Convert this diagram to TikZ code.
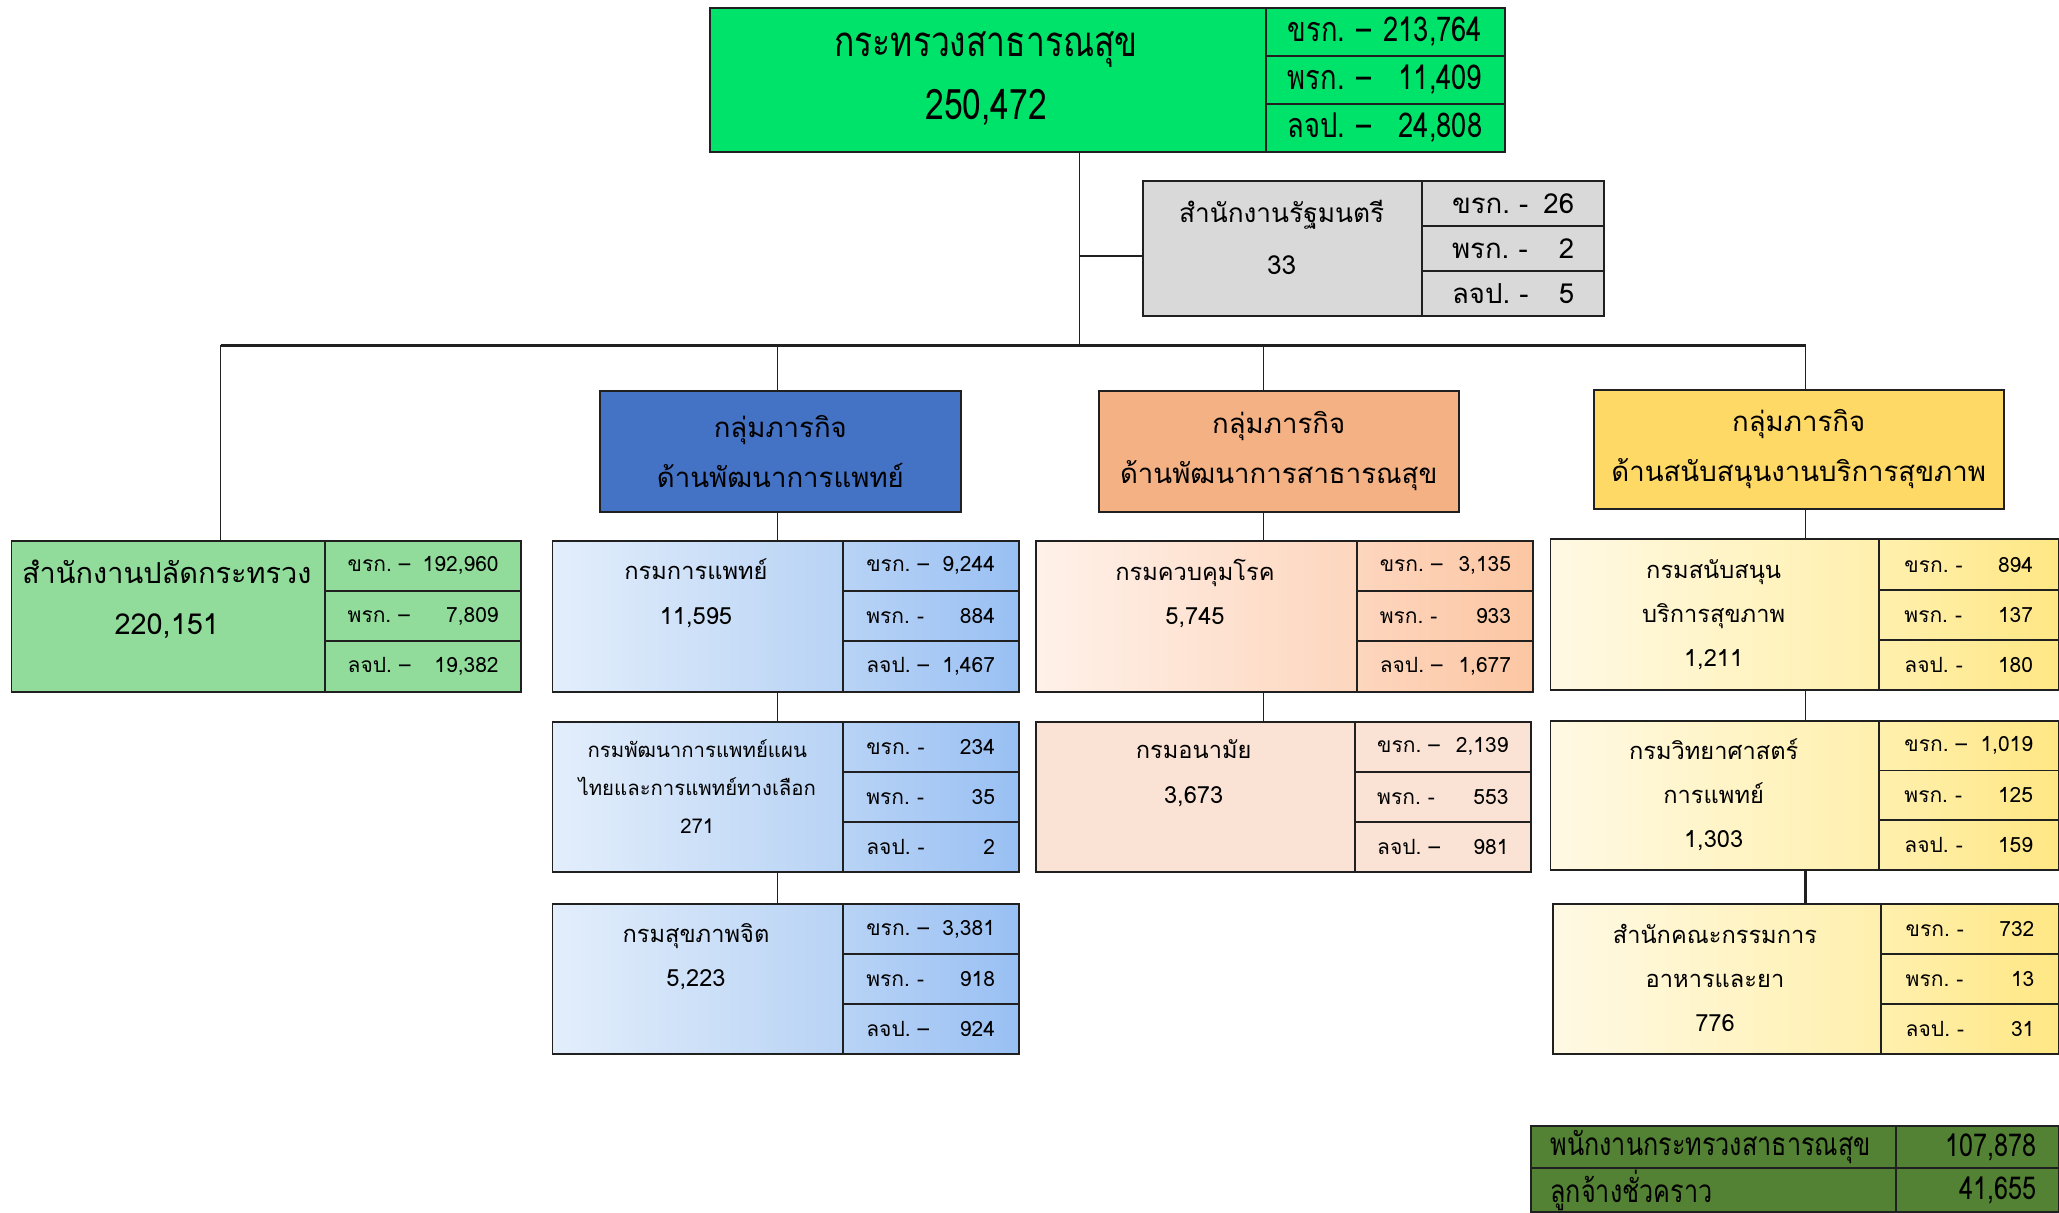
\documentclass[tikz,border=0pt]{standalone}
\usepackage{fontspec}
\usepackage{tikz}
\setmainfont[Script=Thai]{Loma}
\newfontfamily\narrowfont[Script=Thai,FakeStretch=0.8]{Loma}
\newcommand{\numgap}{\hspace{0.3em plus 1fill}}
\frenchspacing
\definecolor{linec}{HTML}{202020}
\definecolor{topgreen}{RGB}{0,227,107}
\definecolor{mingray}{HTML}{D9D9D9}
\definecolor{pgreen}{RGB}{145,220,155}
\definecolor{grpblue}{HTML}{4472C4}
\definecolor{grporange}{HTML}{F4B183}
\definecolor{grpyellow}{HTML}{FFD966}
\definecolor{bL}{HTML}{E3EEFB}
\definecolor{bM}{HTML}{B8D3F5}
\definecolor{bR}{HTML}{99C0F4}
\definecolor{oL}{HTML}{FFF1E9}
\definecolor{oM}{HTML}{FDD6BE}
\definecolor{oR}{HTML}{FCC6A2}
\definecolor{oF}{HTML}{FAE3D5}
\definecolor{yL}{HTML}{FFF9E4}
\definecolor{yM}{HTML}{FFF0AE}
\definecolor{yR}{HTML}{FFE784}
\definecolor{olive}{RGB}{84,130,53}

\begin{document}
\begin{tikzpicture}[x=1pt,y=1pt,yscale=-1,
  box/.style={draw=linec,line width=1.5pt,anchor=north west,inner sep=0pt},
  cell/.style={box,align=left,font=\fontsize{16}{18}\selectfont},
  boxtext/.style={align=center,inner sep=0pt},
  thinline/.style={draw=linec,line width=0.9pt},
  thickline/.style={draw=linec,line width=2pt}]
\useasboundingbox (0,0) rectangle (1568,923);

%Shape: Rectangle [ministry]
\node[box,fill=topgreen,minimum width=423,minimum height=110] (topmain) at (540,5) {};
\node[cell,fill=topgreen,minimum width=182,minimum height=36.67,text width=148,font=\narrowfont\fontsize{26}{28}\selectfont] (top1) at (963,5) {ขรก.~–\numgap 213,764};
\node[cell,fill=topgreen,minimum width=182,minimum height=36.67,text width=148,font=\narrowfont\fontsize{26}{28}\selectfont] (top2) at (963,41.67) {พรก.~–\numgap 11,409};
\node[cell,fill=topgreen,minimum width=182,minimum height=36.67,text width=148,font=\narrowfont\fontsize{26}{28}\selectfont] (top3) at (963,78.33) {ลจป.~–\numgap 24,808};
% Text Node
\node[boxtext,font=\narrowfont\fontsize{32}{48}\selectfont] (toptxt) at (751,60) {กระทรวงสาธารณสุข\\250,472};

%Shape: Rectangle [minister office]
\node[box,fill=mingray,minimum width=212,minimum height=103] (minmain) at (870,137) {};
\node[cell,fill=mingray,minimum width=139,minimum height=34.33,text width=93,font=\fontsize{21}{23}\selectfont] (min1) at (1082,137) {ขรก.~-\numgap 26};
\node[cell,fill=mingray,minimum width=139,minimum height=34.33,text width=93,font=\fontsize{21}{23}\selectfont] (min2) at (1082,171.33) {พรก.~-\numgap 2};
\node[cell,fill=mingray,minimum width=139,minimum height=34.33,text width=93,font=\fontsize{21}{23}\selectfont] (min3) at (1082,205.67) {ลจป.~-\numgap 5};
% Text Node
\node[boxtext,font=\fontsize{20}{40}\selectfont] (mintxt) at (976,181) {สำนักงานรัฐมนตรี\\33};

%Straight Lines [trunk and bus]
\coordinate (trunk) at (822,263);
\coordinate (minjoin) at (822,195);
\coordinate (colP) at (168,263);
\coordinate (colB) at (592,263);
\coordinate (colO) at (962,263);
\coordinate (colY) at (1375,263);
\draw[thinline] (trunk |- topmain.south) -- (trunk);
\draw[thickline] (minjoin) -- (minjoin -| minmain.west);
\draw[thickline] (colP) -- (colY);

%Shape: Rectangle [mission groups]
\node[box,fill=grpblue,minimum width=275,minimum height=92] (grpB) at (456,297) {};
\node[box,fill=grporange,minimum width=274,minimum height=92] (grpO) at (836,297) {};
\node[box,fill=grpyellow,minimum width=312,minimum height=91] (grpY) at (1213,296) {};
% Text Node
\node[boxtext,font=\fontsize{21}{38}\selectfont] (grpBtxt) at (grpB.center) {กลุ่มภารกิจ\\ด้านพัฒนาการแพทย์};
\node[boxtext,font=\fontsize{21}{38}\selectfont] (grpOtxt) at (grpO.center) {กลุ่มภารกิจ\\ด้านพัฒนาการสาธารณสุข};
\node[boxtext,font=\fontsize{21}{38}\selectfont] (grpYtxt) at (grpY.center) {กลุ่มภารกิจ\\ด้านสนับสนุนงานบริการสุขภาพ};

%Shape: Rectangle [permanent secretary]
\node[box,fill=pgreen,minimum width=239,minimum height=115] (pmain) at (8,411) {};
\node[cell,fill=pgreen,minimum width=149,minimum height=38.33,text width=115] (p1) at (247,411) {ขรก.~–\numgap 192,960};
\node[cell,fill=pgreen,minimum width=149,minimum height=38.33,text width=115] (p2) at (247,449.33) {พรก.~–\numgap 7,809};
\node[cell,fill=pgreen,minimum width=149,minimum height=38.33,text width=115] (p3) at (247,487.67) {ลจป.~–\numgap 19,382};
% Text Node
\node[boxtext,font=\fontsize{22}{39}\selectfont] (ptxt) at (127,456.5) {สำนักงานปลัดกระทรวง\\220,151};

%Shape: Rectangle [medical services]
\node[box,left color=bL,right color=bM,minimum width=221,minimum height=115] (b1main) at (420,411) {};
\node[cell,left color=bM,right color=bR,minimum width=134,minimum height=38.33,text width=98] (b11) at (641,411) {ขรก.~–\numgap 9,244};
\node[cell,left color=bM,right color=bR,minimum width=134,minimum height=38.33,text width=98] (b12) at (641,449.33) {พรก.~-\numgap 884};
\node[cell,left color=bM,right color=bR,minimum width=134,minimum height=38.33,text width=98] (b13) at (641,487.67) {ลจป.~–\numgap 1,467};
% Text Node
\node[boxtext,font=\fontsize{18}{34}\selectfont] (b1txt) at (530,452) {กรมการแพทย์\\11,595};

%Shape: Rectangle [thai traditional medicine]
\node[box,left color=bL,right color=bM,minimum width=221,minimum height=114] (b2main) at (420,549) {};
\node[cell,left color=bM,right color=bR,minimum width=134,minimum height=38,text width=98] (b21) at (641,549) {ขรก.~-\numgap 234};
\node[cell,left color=bM,right color=bR,minimum width=134,minimum height=38,text width=98] (b22) at (641,587) {พรก.~-\numgap 35};
\node[cell,left color=bM,right color=bR,minimum width=134,minimum height=38,text width=98] (b23) at (641,625) {ลจป.~-\numgap 2};
% Text Node
\node[boxtext,font=\fontsize{15.5}{29}\selectfont] (b2txt) at (531,599) {กรมพัฒนาการแพทย์แผน\\ไทยและการแพทย์ทางเลือก\\271};

%Shape: Rectangle [mental health]
\node[box,left color=bL,right color=bM,minimum width=221,minimum height=114] (b3main) at (420,688) {};
\node[cell,left color=bM,right color=bR,minimum width=134,minimum height=38,text width=98] (b31) at (641,688) {ขรก.~–\numgap 3,381};
\node[cell,left color=bM,right color=bR,minimum width=134,minimum height=38,text width=98] (b32) at (641,726) {พรก.~-\numgap 918};
\node[cell,left color=bM,right color=bR,minimum width=134,minimum height=38,text width=98] (b33) at (641,764) {ลจป.~–\numgap 924};
% Text Node
\node[boxtext,font=\fontsize{18}{34}\selectfont] (b3txt) at (530,728.5) {กรมสุขภาพจิต\\5,223};

%Shape: Rectangle [disease control]
\node[box,left color=oL,right color=oM,minimum width=245,minimum height=115] (o1main) at (788,411) {};
\node[cell,left color=oM,right color=oR,minimum width=134,minimum height=38.33,text width=100] (o11) at (1033,411) {ขรก.~–\numgap 3,135};
\node[cell,left color=oM,right color=oR,minimum width=134,minimum height=38.33,text width=100] (o12) at (1033,449.33) {พรก.~-\numgap 933};
\node[cell,left color=oM,right color=oR,minimum width=134,minimum height=38.33,text width=100] (o13) at (1033,487.67) {ลจป.~–\numgap 1,677};
% Text Node
\node[boxtext,font=\fontsize{18}{34}\selectfont] (o1txt) at (910,452) {กรมควบคุมโรค\\5,745};

%Shape: Rectangle [health]
\node[box,fill=oF,minimum width=243,minimum height=114] (o2main) at (788,549) {};
\node[cell,fill=oF,minimum width=134,minimum height=38,text width=100] (o21) at (1031,549) {ขรก.~–\numgap 2,139};
\node[cell,fill=oF,minimum width=134,minimum height=38,text width=100] (o22) at (1031,587) {พรก.~-\numgap 553};
\node[cell,fill=oF,minimum width=134,minimum height=38,text width=100] (o23) at (1031,625) {ลจป.~–\numgap 981};
% Text Node
\node[boxtext,font=\fontsize{18}{34}\selectfont] (o2txt) at (909,589) {กรมอนามัย\\3,673};

%Shape: Rectangle [health service support]
\node[box,left color=yL,right color=yM,minimum width=250,minimum height=115] (y1main) at (1180,410) {};
\node[cell,left color=yM,right color=yR,minimum width=137,minimum height=38.33,text width=98] (y11) at (1430,410) {ขรก.~-\numgap 894};
\node[cell,left color=yM,right color=yR,minimum width=137,minimum height=38.33,text width=98] (y12) at (1430,448.33) {พรก.~-\numgap 137};
\node[cell,left color=yM,right color=yR,minimum width=137,minimum height=38.33,text width=98] (y13) at (1430,486.67) {ลจป.~-\numgap 180};
% Text Node
\node[boxtext,font=\fontsize{18}{33.5}\selectfont] (y1txt) at (1305,468) {กรมสนับสนุน\\บริการสุขภาพ\\1,211};

%Shape: Rectangle [medical sciences]
\node[box,left color=yL,right color=yM,minimum width=250,minimum height=114] (y2main) at (1180,548) {};
\node[cell,left color=yM,right color=yR,minimum width=137,minimum height=38,text width=98] (y21) at (1430,548) {ขรก.~–\numgap 1,019};
\node[cell,left color=yM,right color=yR,minimum width=137,minimum height=38,text width=98] (y22) at (1430,586) {พรก.~-\numgap 125};
\node[cell,left color=yM,right color=yR,minimum width=137,minimum height=38,text width=98] (y23) at (1430,624) {ลจป.~-\numgap 159};
% Text Node
\node[boxtext,font=\fontsize{18}{33.5}\selectfont] (y2txt) at (1305,605) {กรมวิทยาศาสตร์\\การแพทย์\\1,303};

%Shape: Rectangle [food and drug]
\node[box,left color=yL,right color=yM,minimum width=250,minimum height=114] (y3main) at (1182,688) {};
\node[cell,left color=yM,right color=yR,minimum width=135,minimum height=38,text width=98] (y31) at (1432,688) {ขรก.~-\numgap 732};
\node[cell,left color=yM,right color=yR,minimum width=135,minimum height=38,text width=98] (y32) at (1432,726) {พรก.~-\numgap 13};
\node[cell,left color=yM,right color=yR,minimum width=135,minimum height=38,text width=98] (y33) at (1432,764) {ลจป.~-\numgap 31};
% Text Node
\node[boxtext,font=\fontsize{18}{33.5}\selectfont] (y3txt) at (1306,745) {สำนักคณะกรรมการ\\อาหารและยา\\776};

%Straight Lines [drops]
\draw[thinline] (colP) -- (colP |- pmain.north);
\draw[thinline] (colB) -- (colB |- grpB.north);
\draw[thinline] (colO) -- (colO |- grpO.north);
\draw[thinline] (colY) -- (colY |- grpY.north);
\draw[thinline] (colB |- grpB.south) -- (colB |- b1main.north);
\draw[thinline] (colB |- b1main.south) -- (colB |- b2main.north);
\draw[thinline] (colB |- b2main.south) -- (colB |- b3main.north);
\draw[thinline] (colO |- grpO.south) -- (colO |- o1main.north);
\draw[thinline] (colO |- o1main.south) -- (colO |- o2main.north);
\draw[thinline] (colY |- grpY.south) -- (colY |- y1main.north);
\draw[thinline] (colY |- y1main.south) -- (colY |- y2main.north);
\draw[thickline] (colY |- y2main.south) -- (colY |- y3main.north);

%Shape: Table [totals]
\node[cell,fill=olive,minimum width=278,minimum height=32,text width=248,font=\narrowfont\fontsize{24}{26}\selectfont] (t11) at (1165,857) {พนักงานกระทรวงสาธารณสุข};
\node[cell,fill=olive,minimum width=124,minimum height=32,text width=90,align=right,font=\narrowfont\fontsize{24}{26}\selectfont] (t12) at (1443,857) {107,878};
\node[cell,fill=olive,minimum width=278,minimum height=33,text width=248,font=\narrowfont\fontsize{24}{26}\selectfont] (t21) at (1165,889) {ลูกจ้างชั่วคราว};
\node[cell,fill=olive,minimum width=124,minimum height=33,text width=90,align=right,font=\narrowfont\fontsize{24}{26}\selectfont] (t22) at (1443,889) {41,655};

\end{tikzpicture}
\end{document}
